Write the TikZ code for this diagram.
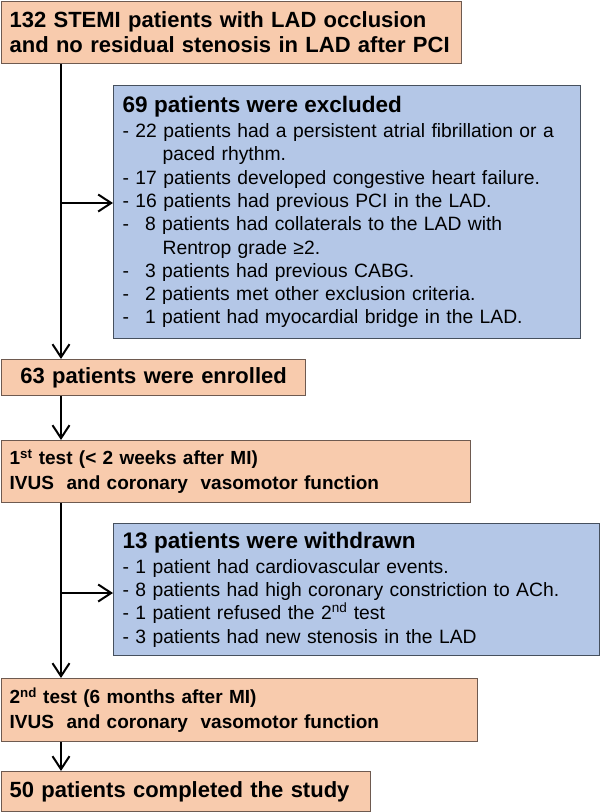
\documentclass[tikz,border=0pt]{standalone}
\usepackage{fontspec}
\setmainfont{Liberation Sans}
\usetikzlibrary{arrows.meta}
\definecolor{peach}{HTML}{F8CBAD}
\definecolor{lblue}{HTML}{B4C7E7}
\definecolor{pborder}{HTML}{6E5A50}
\definecolor{bborder}{HTML}{46505E}
\begin{document}
\begin{tikzpicture}[x=1pt,y=-1pt,
  obox/.style={draw=pborder, fill=peach, line width=1.2pt, anchor=north west, inner xsep=8pt, inner ysep=0pt, align=left},
  bbox/.style={draw=bborder, fill=lblue, line width=1.2pt, anchor=north west, inner xsep=9pt, inner ysep=0pt, align=left,
               font=\fontsize{19.3}{23.3}\selectfont},
  conn/.style={line width=2pt, -{Straight Barb[length=13pt,width=17pt]}},
]
\useasboundingbox (0,0) rectangle (600,812);
\coordinate (c) at (61,0);

\node[obox, text width=444pt, minimum height=62pt, font=\bfseries\fontsize{22}{25}\selectfont] (b1) at (1,1)
  {\mbox{132 STEMI patients with LAD occlusion}\\\mbox{and no residual stenosis in LAD after PCI}};

\node[bbox, text width=449pt, minimum height=253pt] (e1) at (113,85)
  {{\bfseries\fontsize{22.5}{25}\selectfont 69 patients were excluded\par}\vspace{1.7pt}
   \mbox{- 22 patients had a persistent atrial fibrillation or a}\\
   \hspace*{40pt}paced rhythm.\\
   \mbox{- 17 patients developed congestive heart failure.}\\
   \mbox{- 16 patients had previous PCI in the LAD.}\\
   \mbox{-\hspace{16pt}8 patients had collaterals to the LAD with}\\
   \hspace*{40pt}Rentrop grade ≥2.\\
   \mbox{-\hspace{16pt}3 patients had previous CABG.}\\
   \mbox{-\hspace{16pt}2 patients met other exclusion criteria.}\\
   \mbox{-\hspace{16pt}1 patient had myocardial bridge in the LAD.}};

\node[obox, text width=288pt, minimum height=36pt, align=center, font=\bfseries\fontsize{22}{25}\selectfont] (b2) at (1,359)
  {\mbox{63 patients were enrolled}};

\node[obox, text width=453pt, minimum height=62pt, font=\bfseries\fontsize{19}{25}\selectfont] (b3) at (1,440)
  {\mbox{1\textsuperscript{st} test (< 2 weeks after MI)}\\\mbox{IVUS \ and coronary \ vasomotor function}};

\node[bbox, text width=468pt, minimum height=132pt] (e2) at (113,523)
  {{\bfseries\fontsize{22.5}{25}\selectfont 13 patients were withdrawn\par}\vspace{1.7pt}
   \mbox{- 1 patient had cardiovascular events.}\\
   \mbox{- 8 patients had high coronary constriction to ACh.}\\
   \mbox{- 1 patient refused the 2\textsuperscript{nd} test}\\
   \mbox{- 3 patients had new stenosis in the LAD}};

\node[obox, text width=460pt, minimum height=63pt, font=\bfseries\fontsize{19}{25}\selectfont] (b4) at (1,678)
  {\mbox{2\textsuperscript{nd} test (6 months after MI)}\\\mbox{IVUS \ and coronary \ vasomotor function}};

\node[obox, text width=353pt, minimum height=40pt, font=\bfseries\fontsize{22}{25}\selectfont] (b5) at (1,771)
  {\mbox{50 patients completed the study}};

\coordinate (j1) at (61,203);
\coordinate (j2) at (61,593);
\draw[conn] (c |- b1.south) -- (c |- b2.north);
\draw[conn] (j1) -- (j1 -| e1.west);
\draw[conn] (c |- b2.south) -- (c |- b3.north);
\draw[conn] (c |- b3.south) -- (c |- b4.north);
\draw[conn] (j2) -- (j2 -| e2.west);
\draw[conn] (c |- b4.south) -- (c |- b5.north);
\end{tikzpicture}
\end{document}
